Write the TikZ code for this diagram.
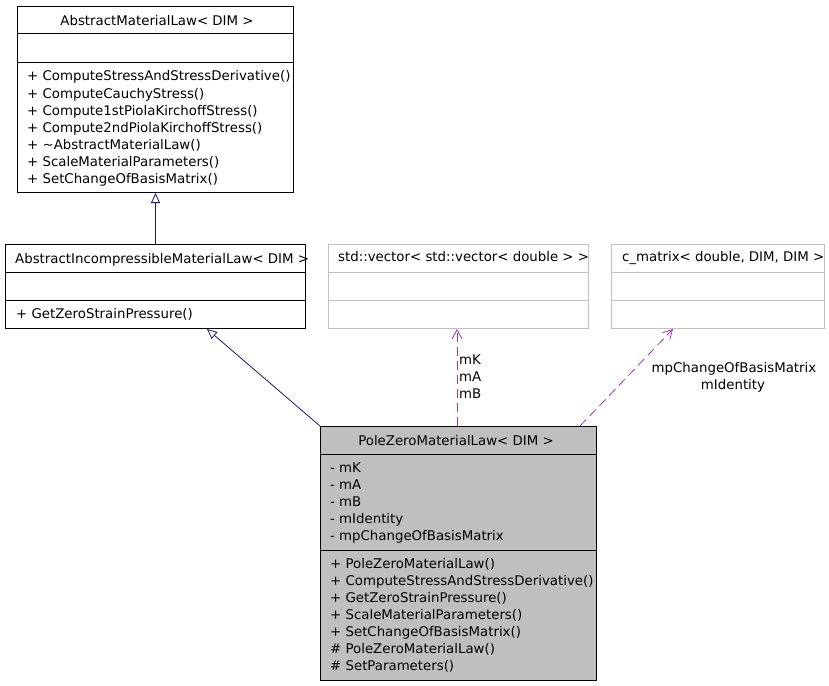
\documentclass[tikz,border=0pt]{standalone}
\usepackage{fontspec}
\setmainfont{DejaVu Sans}
\usetikzlibrary{arrows.meta,calc}
\definecolor{navyl}{HTML}{191970}
\definecolor{purp}{HTML}{9A32CD}
\definecolor{grayb}{HTML}{BFBFBF}
\begin{document}
\begin{tikzpicture}[x=1pt,y=-1pt,
  cls/.style={draw=black,line width=1pt,anchor=north west,inner sep=0,fill=white},
  ext/.style={draw=grayb,line width=1pt,anchor=north west,inner sep=0,fill=white},
  cur/.style={draw=black,line width=1pt,anchor=north west,inner sep=0,fill=grayb},
  sep/.style={line width=1pt},
  sepg/.style={line width=1pt,draw=grayb},
  txt/.style={anchor=base west,inner sep=0,font=\fontsize{13.33}{17}\selectfont},
  ctxt/.style={anchor=base,inner sep=0,font=\fontsize{13.33}{17}\selectfont},
  inh/.style={draw=navyl,line width=0.8pt,-{Triangle[open,length=10pt,width=9pt]}},
  use/.style={draw=purp,line width=0.8pt,dash pattern=on 9pt off 5pt,-{Straight Barb[length=9pt,width=10pt]}},
]
\useasboundingbox (0,0) rectangle (829,685);

% AbstractMaterialLaw
\node[cls,minimum width=276pt,minimum height=186pt] (aml) at (17,6) {};
\draw[sep] (17,34) -- (293,34);
\draw[sep] (17,62) -- (293,62);
\node[ctxt] (amlt) at (157,26) {AbstractMaterialLaw< DIM >};
\node[txt] (aml1) at (27,81) {+ ComputeStressAndStressDerivative()};
\node[txt] (aml2) at (27,98) {+ ComputeCauchyStress()};
\node[txt] (aml3) at (27,115) {+ Compute1stPiolaKirchoffStress()};
\node[txt] (aml4) at (27,132) {+ Compute2ndPiolaKirchoffStress()};
\node[txt] (aml5) at (27,149) {+ \char"223C AbstractMaterialLaw()};
\node[txt] (aml6) at (27,166) {+ ScaleMaterialParameters()};
\node[txt] (aml7) at (27,183) {+ SetChangeOfBasisMatrix()};

% AbstractIncompressibleMaterialLaw
\node[cls,minimum width=300pt,minimum height=84pt] (aiml) at (5,244) {};
\draw[sep] (5,272) -- (305,272);
\draw[sep] (5,300) -- (305,300);
\node[txt] (aimlt) at (15,263) {AbstractIncompressibleMaterialLaw< DIM >};
\node[txt] (aiml1) at (16,318) {+ GetZeroStrainPressure()};

% std::vector
\node[ext,minimum width=260pt,minimum height=84pt] (vec) at (328,244) {};
\draw[sepg] (328,272) -- (588,272);
\draw[sepg] (328,300) -- (588,300);
\node[txt] (vect) at (338,261) {std::vector< std::vector< double > >};

% c_matrix
\node[ext,minimum width=213pt,minimum height=84pt] (cm) at (611,244) {};
\draw[sepg] (611,272) -- (824,272);
\draw[sepg] (611,300) -- (824,300);
\node[txt] (cmt) at (622,261) {c\_matrix< double, DIM, DIM >};

% PoleZeroMaterialLaw
\node[cur,minimum width=276pt,minimum height=254pt] (pz) at (320,426) {};
\draw[sep] (320,454) -- (596,454);
\draw[sep] (320,550) -- (596,550);
\node[ctxt] (pzt) at (456,445) {PoleZeroMaterialLaw< DIM >};
\node[txt] (pza1) at (330,472) {- mK};
\node[txt] (pza2) at (330,489) {- mA};
\node[txt] (pza3) at (330,506) {- mB};
\node[txt] (pza4) at (330,523) {- mIdentity};
\node[txt] (pza5) at (330,540) {- mpChangeOfBasisMatrix};
\node[txt] (pzm1) at (330,568) {+ PoleZeroMaterialLaw()};
\node[txt] (pzm2) at (330,585) {+ ComputeStressAndStressDerivative()};
\node[txt] (pzm3) at (330,602) {+ GetZeroStrainPressure()};
\node[txt] (pzm4) at (330,619) {+ ScaleMaterialParameters()};
\node[txt] (pzm5) at (330,636) {+ SetChangeOfBasisMatrix()};
\node[txt] (pzm6) at (330,653) {\# PoleZeroMaterialLaw()};
\node[txt] (pzm7) at (330,670) {\# SetParameters()};

% connectors
\draw[inh] (aiml.north) -- (aml.south);
\coordinate (aimlin) at ($(aiml.south west)+(202,0)$);
\draw[inh] (pz.north west) -- (aimlin);
\coordinate (pzv) at ($(pz.north west)+(137,0)$);
\coordinate (vecin) at ($(vec.south west)+(129,0)$);
\draw[use] (pzv) -- (vecin);
\coordinate (pzc) at ($(pz.north west)+(260,0)$);
\coordinate (cmin) at ($(cm.south west)+(62,0)$);
\draw[use] (pzc) -- (cmin);

% labels
\node[txt] (l1) at (459,364) {mK};
\node[txt] (l2) at (459,381) {mA};
\node[txt] (l3) at (459,398) {mB};
\node[ctxt] (l4) at (734,372) {mpChangeOfBasisMatrix};
\node[ctxt] (l5) at (733,389) {mIdentity};
\end{tikzpicture}
\end{document}
